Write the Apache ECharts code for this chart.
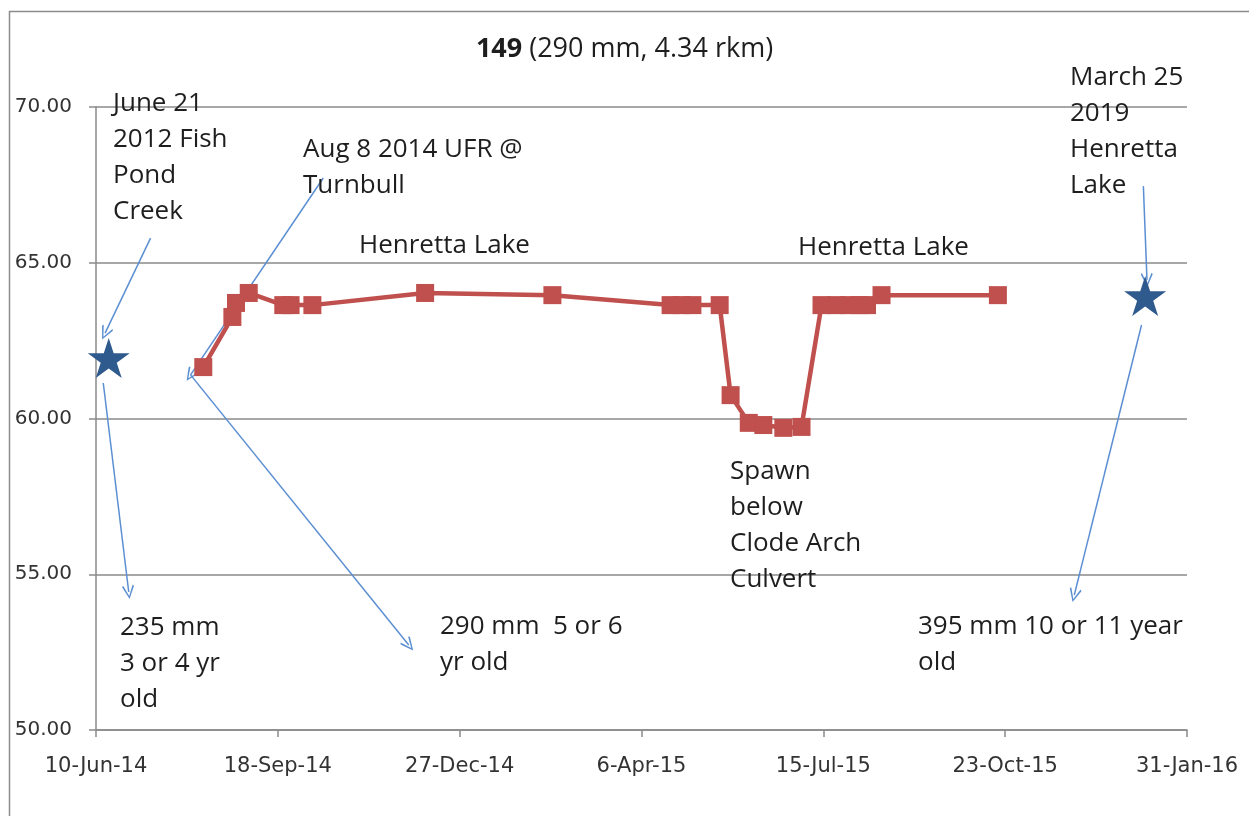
<!DOCTYPE html>
<html>
<head>
<meta charset="utf-8">
<script src="https://cdn.jsdelivr.net/npm/echarts@6/dist/echarts.min.js"></script>
<style>
  html, body { margin: 0; padding: 0; background: #fff; }
  #chart { width: 1249px; height: 816px; }
</style>
</head>
<body>
<div id="chart"></div>
<script>
// Detection dates and depth readings for fish 149
const fishDates = [
  '2014-08-08', '2014-08-24', '2014-08-26', '2014-09-02', '2014-09-21', '2014-09-25',
  '2014-10-07', '2014-12-08', '2015-02-16', '2015-04-22', '2015-04-28', '2015-05-04',
  '2015-05-19', '2015-05-25', '2015-06-04', '2015-06-12', '2015-06-23', '2015-07-03',
  '2015-07-14', '2015-07-22', '2015-07-29', '2015-08-04', '2015-08-08', '2015-08-16',
  '2015-10-19'
];
const fishValues = [
  61.65, 63.26, 63.71, 64.03, 63.64, 63.64,
  63.64, 64.03, 63.96, 63.64, 63.64, 63.64,
  63.64, 60.75, 59.86, 59.79, 59.70, 59.73,
  63.64, 63.64, 63.64, 63.64, 63.64, 63.96,
  63.96
];

// Capture / recapture events shown as stars
const starDates = ['2014-06-17', '2016-01-08'];
const starValues = [61.94, 63.93];

// Axis ticks
const axisStart = '2014-06-10';
const xTickDays = 100;
const xSpanDays = 600;
const yTicks = [50, 55, 60, 65, 70];

// Arrows: [fromDate, fromValue] -> [toDate, toValue]
const arrowFrom = [
  ['2014-07-10', 65.79], ['2014-06-14', 61.14], ['2014-10-13', 67.72],
  ['2014-08-01', 61.40], ['2016-01-07', 67.46], ['2016-01-06', 63.00]
];
const arrowTo = [
  ['2014-06-15', 62.74], ['2014-06-28', 54.43], ['2014-08-01', 61.40],
  ['2014-11-29', 52.73], ['2016-01-09', 64.45], ['2015-11-30', 54.33]
];

const MS_DAY = 86400000;
const MONTHS = ['Jan','Feb','Mar','Apr','May','Jun','Jul','Aug','Sep','Oct','Nov','Dec'];
function utc(s) { const p = s.split('-').map(Number); return Date.UTC(p[0], p[1] - 1, p[2]); }
const base = utc(axisStart);
function dayOf(s) { return Math.round((utc(s) - base) / MS_DAY); }
function dayLabel(d) {
  const t = new Date(base + d * MS_DAY);
  return t.getUTCDate() + '-' + MONTHS[t.getUTCMonth()] + '-' + String(t.getUTCFullYear()).slice(2);
}

const fishData = fishDates.map((d, i) => [dayOf(d), fishValues[i]]);
const starData = starDates.map((d, i) => [dayOf(d), starValues[i]]);
const arrowData = arrowFrom.map((f, i) => [
  { coord: [dayOf(f[0]), f[1]] },
  { coord: [dayOf(arrowTo[i][0]), arrowTo[i][1]] }
]);

const STAR = 'path://M50,0 L61.2,34.5 L97.6,34.5 L68.2,55.9 L79.4,90.5 L50,69.1 L20.6,90.5 L31.8,55.9 L2.4,34.5 L38.8,34.5 Z';
const CHEVRON = 'path://M5,0 L10,9 L9,10 L5,2.2 L1,10 L0,9 Z';

const textFont = '"Open Sans", sans-serif';
const axisFont = '"DejaVu Sans", sans-serif';
const txt = '#1e1e1e';

function note(x, y, str) {
  return {
    type: 'text', left: x, top: y, z: 20,
    style: { text: str, font: '26px ' + textFont, fill: txt, lineHeight: 36 }
  };
}

const chart = echarts.init(document.getElementById('chart'));
chart.setOption({
  animation: false,
  backgroundColor: '#fff',
  grid: { left: 96, right: 62, top: 107, bottom: 86 },
  xAxis: {
    type: 'value', min: 0, max: xSpanDays, interval: xTickDays,
    axisLine: { show: true, lineStyle: { color: '#8a8a8a', width: 1.5 } },
    axisTick: { show: true, length: 7, lineStyle: { color: '#8a8a8a', width: 1.5 } },
    splitLine: { show: false },
    axisLabel: {
      formatter: v => dayLabel(v), margin: 26,
      fontFamily: axisFont, fontSize: 21, color: '#333'
    }
  },
  yAxis: {
    type: 'value', min: yTicks[0], max: yTicks[yTicks.length - 1], interval: yTicks[1] - yTicks[0],
    axisLine: { show: true, lineStyle: { color: '#8a8a8a', width: 1.5 } },
    axisTick: { show: true, length: 7, lineStyle: { color: '#8a8a8a', width: 1.5 } },
    splitLine: { show: true, lineStyle: { color: '#8a8a8a', width: 1.5 } },
    axisLabel: {
      formatter: v => v.toFixed(2), margin: 24,
      fontFamily: axisFont, fontSize: 20, color: '#333'
    }
  },
  title: {
    text: '{b|149} (290 mm, 4.34 rkm)',
    left: 'center', top: 31,
    textStyle: {
      fontFamily: textFont, fontSize: 27, fontWeight: 'normal', color: txt,
      rich: { b: { fontFamily: textFont, fontSize: 27, fontWeight: 'bold', color: txt } }
    }
  },
  series: [
    {
      type: 'line', data: fishData,
      symbol: 'rect', symbolSize: 18,
      lineStyle: { color: '#c0504d', width: 4.5 },
      itemStyle: { color: '#c0504d' },
      z: 5
    },
    {
      type: 'scatter', data: starData,
      symbol: STAR, symbolSize: [42, 40],
      itemStyle: { color: '#2f5a8e', opacity: 1 },
      z: 6,
      markLine: {
        silent: true, animation: false,
        symbol: ['none', CHEVRON], symbolSize: [12, 14],
        lineStyle: { color: '#5b8fd2', width: 1.5, type: 'solid' },
        label: { show: false },
        data: arrowData
      }
    }
  ],
  graphic: [
    { type: 'rect', left: 7, top: 9, z: -1, silent: true,
      shape: { width: 1300, height: 900 },
      style: { fill: 'none', stroke: '#8c8c8c', lineWidth: 1.5 } },
    note(113, 86, 'June 21\n2012 Fish\nPond\nCreek'),
    note(303, 132, 'Aug 8 2014 UFR @\nTurnbull'),
    note(359, 228, 'Henretta Lake'),
    note(798, 230, 'Henretta Lake'),
    note(1070, 60, 'March 25\n2019\nHenretta\nLake'),
    note(730, 454, 'Spawn\nbelow\nClode Arch\nCulvert'),
    note(120, 610, '235 mm\n3 or 4 yr\nold'),
    note(440, 609, '290 mm  5 or 6\nyr old'),
    note(918, 609, '395 mm 10 or 11 year\nold')
  ]
});
</script>
</body>
</html>
